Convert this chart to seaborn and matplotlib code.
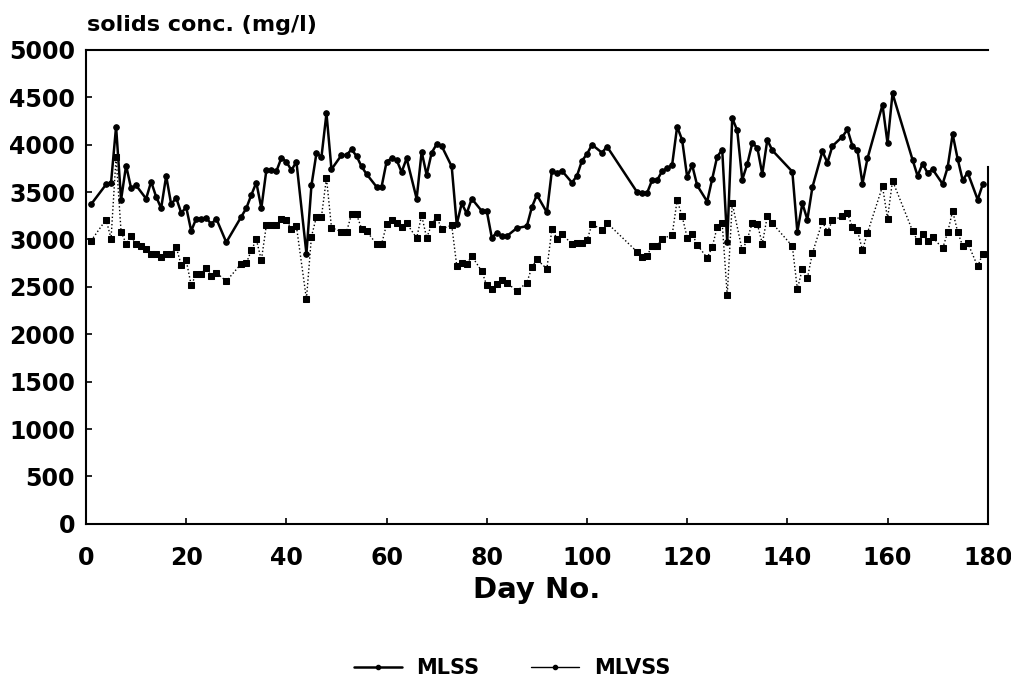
import seaborn as sns
import matplotlib
matplotlib.use("Agg")
import matplotlib.pyplot as plt
from matplotlib.lines import Line2D

# Datos (dia, concentracion mg/l)
mlss_days = [1, 4, 5, 6, 7, 8, 9, 10, 12, 13, 14, 15, 16, 17, 18, 19, 20,
             21, 22, 23, 24, 25, 26, 28, 31, 32, 33, 34, 35, 36, 37, 38, 39,
             40, 41, 42, 44, 45, 46, 47, 48, 49, 51, 52, 53, 54, 55, 56, 58,
             59, 60, 61, 62, 63, 64, 66, 67, 68, 69, 70, 71, 73, 74, 75, 76,
             77, 79, 80, 81, 82, 83, 84, 86, 88, 89, 90, 92, 93, 94, 95, 97,
             98, 99, 100, 101, 103, 104, 110, 111, 112, 113, 114, 115, 116,
             117, 118, 119, 120, 121, 122, 124, 125, 126, 127, 128, 129, 130,
             131, 132, 133, 134, 135, 136, 137, 141, 142, 143, 144, 145, 147,
             148, 149, 151, 152, 153, 154, 155, 156, 159, 160, 161, 165, 166,
             167, 168, 169, 171, 172, 173, 174, 175, 176, 178, 179]
mlss_vals = [3370, 3580, 3600, 4190, 3420, 3780, 3540, 3570, 3430, 3610,
             3450, 3330, 3670, 3370, 3440, 3280, 3340, 3090, 3220, 3220,
             3230, 3160, 3220, 2970, 3240, 3330, 3470, 3600, 3330, 3730,
             3730, 3720, 3860, 3820, 3730, 3820, 2850, 3570, 3910, 3870,
             4330, 3740, 3890, 3890, 3950, 3880, 3770, 3690, 3555, 3555,
             3820, 3855, 3840, 3710, 3855, 3430, 3925, 3680, 3915, 4005,
             3985, 3770, 3160, 3380, 3275, 3430, 3300, 3300, 3020, 3070,
             3035, 3035, 3120, 3140, 3340, 3470, 3285, 3725, 3700, 3725,
             3600, 3670, 3830, 3900, 4000, 3915, 3980, 3500, 3490, 3490,
             3625, 3625, 3720, 3750, 3785, 4190, 4050, 3660, 3785, 3570,
             3400, 3640, 3875, 3945, 2970, 4280, 4150, 3630, 3795, 4015,
             3970, 3690, 4050, 3940, 3715, 3080, 3380, 3210, 3550, 3930,
             3810, 3985, 4085, 4160, 3985, 3945, 3590, 3855, 4420, 4015,
             4540, 3840, 3670, 3800, 3700, 3740, 3585, 3760, 4110, 3850,
             3625, 3705, 3420, 3580]

mlvss_days = [1, 4, 5, 6, 7, 8, 9, 10, 11, 12, 13, 14, 15, 16, 17, 18, 19,
              20, 21, 22, 23, 24, 25, 26, 28, 31, 32, 33, 34, 35, 36, 37, 38,
              39, 40, 41, 42, 44, 45, 46, 47, 48, 49, 51, 52, 53, 54, 55, 56,
              58, 59, 60, 61, 62, 63, 64, 66, 67, 68, 69, 70, 71, 73, 74, 75,
              76, 77, 79, 80, 81, 82, 83, 84, 86, 88, 89, 90, 92, 93, 94, 95,
              97, 98, 99, 100, 101, 103, 104, 110, 111, 112, 113, 114, 115,
              117, 118, 119, 120, 121, 122, 124, 125, 126, 127, 128, 129, 131,
              132, 133, 134, 135, 136, 137, 141, 142, 143, 144, 145, 147, 148,
              149, 151, 152, 153, 154, 155, 156, 159, 160, 161, 165, 166, 167,
              168, 169, 171, 172, 173, 174, 175, 176, 178, 179]
mlvss_vals = [2985, 3210, 3010, 3870, 3080, 2955, 3035, 2950, 2930, 2900,
              2850, 2845, 2815, 2845, 2845, 2920, 2730, 2780, 2515, 2640,
              2640, 2700, 2615, 2650, 2560, 2745, 2750, 2885, 3000, 2780,
              3150, 3150, 3155, 3220, 3200, 3110, 3140, 2370, 3030, 3240,
              3240, 3650, 3125, 3080, 3080, 3265, 3265, 3115, 3090, 2950,
              2950, 3160, 3200, 3170, 3135, 3170, 3015, 3255, 3015, 3160,
              3240, 3110, 3150, 2725, 2750, 2740, 2825, 2665, 2515, 2475,
              2525, 2575, 2545, 2455, 2545, 2705, 2790, 2690, 3110, 3010,
              3060, 2950, 2960, 2960, 2990, 3160, 3105, 3175, 2870, 2810,
              2830, 2930, 2930, 3010, 3045, 3415, 3245, 3020, 3060, 2945,
              2805, 2920, 3130, 3170, 2410, 3380, 2885, 3000, 3175, 3165,
              2955, 3245, 3170, 2930, 2475, 2690, 2590, 2855, 3190, 3080,
              3200, 3245, 3275, 3130, 3095, 2885, 3070, 3560, 3220, 3620,
              3090, 2985, 3060, 2985, 3025, 2905, 3075, 3300, 3080, 2930,
              2965, 2715, 2850]

x_ticks = list(range(0, 181, 20))
y_ticks = list(range(0, 5001, 500))

sns.set_theme(style="ticks")
plt.rcParams['font.family'] = ['DejaVu Sans']
plt.rcParams['font.weight'] = 'bold'
plt.rcParams['text.color'] = 'black'
plt.rcParams['axes.labelcolor'] = 'black'

fig = plt.figure(figsize=(10.12, 6.83), dpi=100)
ax = fig.add_axes([0.085, 0.233, 0.891, 0.694])

sns.lineplot(x=mlss_days, y=mlss_vals, ax=ax, color='black', linewidth=1.8,
             marker='o', markersize=4, markeredgecolor='black', legend=False)
sns.lineplot(x=mlvss_days, y=mlvss_vals, ax=ax, color='black', linewidth=1.0,
             linestyle=':', marker='s', markersize=3.8, markeredgecolor='black',
             legend=False)

ax.set_xlim(0, 180)
ax.set_ylim(0, 5000)
ax.set_xticks(x_ticks)
ax.set_yticks(y_ticks)
ax.tick_params(axis='both', direction='in', length=4, width=1.2,
               labelsize=17, colors='black')
ax.tick_params(axis='x', pad=16)
ax.tick_params(axis='y', pad=8)

for s in ax.spines.values():
    s.set_linewidth(1.5)
    s.set_color('black')
ax.spines['right'].set_bounds(0, 3760)

ax.set_xlabel('Day No.', fontsize=21, fontweight='bold', color='black',
              labelpad=4)
ax.set_ylabel('')
fig.text(0.086, 0.963, 'solids conc. (mg/l)', fontsize=16, color='black',
         fontweight='bold', va='center', ha='left')

handles = [
    Line2D([], [], color='black', linewidth=1.8, marker='o', markersize=3),
    Line2D([], [], color='black', linewidth=1.0, marker='o', markersize=3),
]
fig.legend(handles, ['MLSS', 'MLVSS'], loc='center',
           bbox_to_anchor=(0.506, 0.022), ncol=2, frameon=False,
           prop={'size': 15, 'weight': 'bold'}, handlelength=2.3,
           handletextpad=0.7, columnspacing=2.5)

fig.savefig('out.png', dpi=100)
